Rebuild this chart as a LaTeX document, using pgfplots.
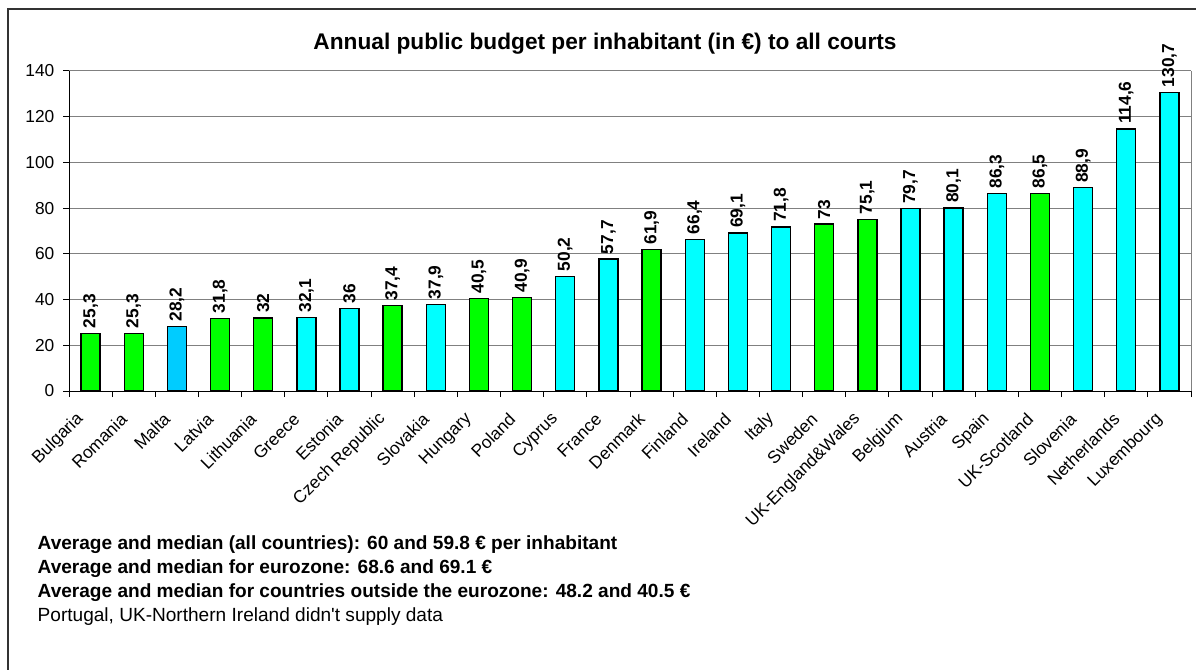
\documentclass[border=0pt]{standalone}
\usepackage{pgfplots}
\pgfplotsset{compat=1.18}
\usepackage{fontspec}
\setmainfont{Liberation Sans}[Ligatures=TeXOff]
\definecolor{nonEuro}{RGB}{0,255,0}
\definecolor{euro}{RGB}{0,255,255}
\definecolor{malta}{RGB}{0,204,255}
\definecolor{gridgray}{RGB}{128,128,128}

\begin{document}
\begin{tikzpicture}
\path[use as bounding box] (0,0) rectangle (897pt,-502.5pt);
% outer chart frame (cut at right and bottom)
\draw[line width=1.5pt, black!80] (6.2pt,-510pt) -- (6.2pt,-6.9pt) -- (905pt,-6.9pt);
\node[font=\fontsize{17}{20}\selectfont\bfseries, anchor=base] at (453.75pt,-37.5pt)
  {Annual public budget per inhabitant (in €) to all courts};

\begin{axis}[
  at={(51.75pt,-293.25pt)}, anchor=south west,
  scale only axis, width=841.5pt, height=240pt,
  xmin=-0.5, xmax=25.5, ymin=0, ymax=140,
  ytick={0,20,...,140},
  xtick={-0.5,0.5,...,25.5}, x tick label as interval,
  xticklabels={Bulgaria,Romania,Malta,Latvia,Lithuania,Greece,Estonia,Czech Republic,Slovakia,Hungary,Poland,Cyprus,France,Denmark,Finland,Ireland,Italy,Sweden,UK-England\&Wales,Belgium,Austria,Spain,UK-Scotland,Slovenia,Netherlands,Luxembourg},
  axis lines=left, axis line style={-, black, line width=0.75pt},
  tick align=outside, major tick length=4.5pt,
  tick style={black, line width=0.75pt},
  ymajorgrids, grid style={gridgray, line width=0.75pt},
  tick label style={font=\fontsize{13}{15}\selectfont},
  xticklabel style={xshift=-5pt, yshift=-12pt, rotate=45, anchor=east},
  yticklabel style={xshift=-3pt},
  ybar, bar width=14.25pt,
  nodes near coords,
  nodes near coords style={rotate=90, anchor=west, black, font=\fontsize{13}{15}\selectfont\bfseries},
  clip=false,
  /pgf/number format/use comma,
  /pgf/number format/assume math mode=true,
]
\addplot[fill=nonEuro, draw=black, line width=1pt, bar shift=0pt] coordinates {
  (0,25.3) (1,25.3) (3,31.8) (4,32) (7,37.4) (9,40.5) (10,40.9)
  (13,61.9) (17,73) (18,75.1) (22,86.5)};
\addplot[fill=malta, draw=black, line width=1pt, bar shift=0pt] coordinates {(2,28.2)};
\addplot[fill=euro, draw=black, line width=1pt, bar shift=0pt] coordinates {
  (5,32.1) (6,36) (8,37.9) (11,50.2) (12,57.7) (14,66.4) (15,69.1) (16,71.8)
  (19,79.7) (20,80.1) (21,86.3) (23,88.9) (24,114.6) (25,130.7)};
\draw[gridgray, line width=0.75pt] (rel axis cs:1,0) -- (rel axis cs:1,1);
\end{axis}

\begin{scope}[font=\fontsize{14.3}{16}\selectfont]
\node[anchor=base west, font=\fontsize{14.3}{16}\selectfont\bfseries] at (24.75pt,-411.75pt)
  {Average and median (all countries): 60 and 59.8 € per inhabitant};
\node[anchor=base west, font=\fontsize{14.3}{16}\selectfont\bfseries] at (24.75pt,-429.75pt)
  {Average and median for eurozone: 68.6 and 69.1 €};
\node[anchor=base west, font=\fontsize{14.3}{16}\selectfont\bfseries] at (24.75pt,-447.75pt)
  {Average and median for countries outside the eurozone: 48.2 and 40.5 €};
\node[anchor=base west] at (24.75pt,-465.75pt)
  {Portugal, UK-Northern Ireland didn't supply data};
\end{scope}
\end{tikzpicture}
\end{document}
